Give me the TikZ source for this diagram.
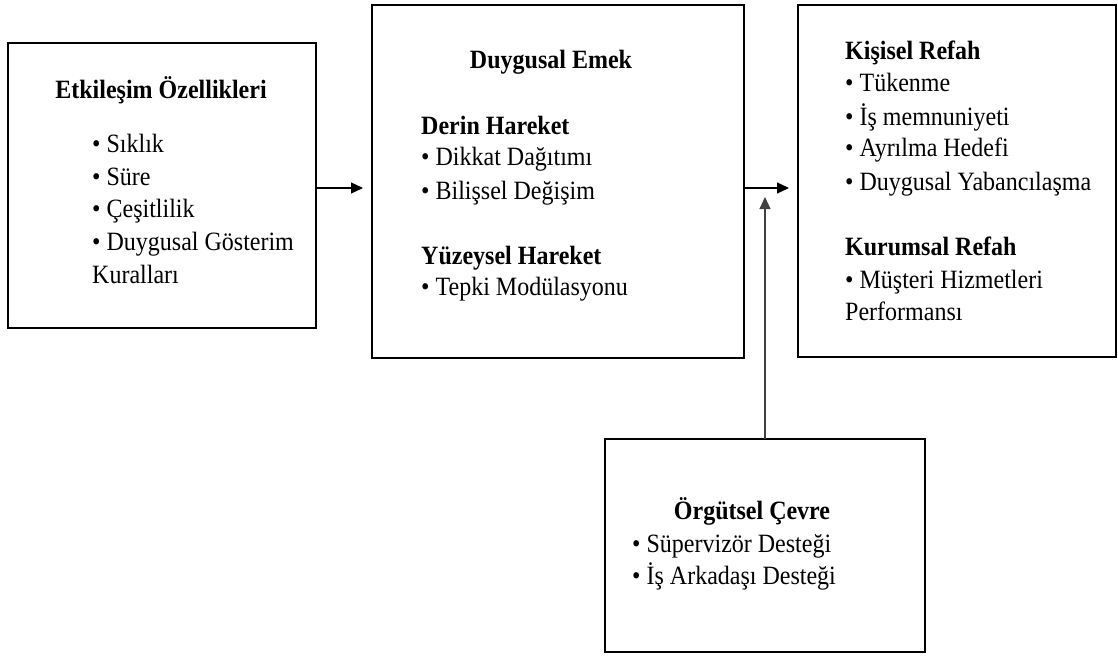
\documentclass[tikz,border=0pt]{standalone}
\usepackage{fontspec}
\setmainfont{Liberation Serif}
\usetikzlibrary{arrows.meta}

% text is set slightly taller than its natural proportions
\newcommand\stretchtxt[1]{\scalebox{1}[1.1]{#1}}

\tikzset{
  panel/.style={draw=black, line width=2.4pt, fill=none, inner sep=0pt, outer sep=0pt},
  flow/.style={line width=1.3pt, -{Triangle[length=12pt,width=11pt]}},
  txt/.style={anchor=base west, inner sep=0pt, font=\fontsize{24}{33}\selectfont},
  head/.style={anchor=base, inner sep=0pt, font=\fontsize{24}{33}\selectfont\bfseries},
  lhead/.style={anchor=base west, inner sep=0pt, font=\fontsize{24}{33}\selectfont\bfseries}
}

\begin{document}
\begin{tikzpicture}[x=1pt, y=-1pt]
  \useasboundingbox (0,0) rectangle (1118,658);

  % frames
  \node[panel, minimum width=308pt, minimum height=285pt] (b1) at (162,185.5) {};
  \node[panel, minimum width=372pt, minimum height=353pt] (b2) at (558,181.5) {};
  \node[panel, minimum width=318pt, minimum height=352pt] (b3) at (957,181) {};
  \node[panel, minimum width=320pt, minimum height=213pt] (b4) at (765,545.5) {};

  % Etkileşim Özellikleri
  \node[head] (t1) at (161,99) {\stretchtxt{Etkileşim Özellikleri}};
  \node[txt] (t1a) at (92,152) {\stretchtxt{• Sıklık}};
  \node[txt] (t1b) at (92,185) {\stretchtxt{• Süre}};
  \node[txt] (t1c) at (92,217) {\stretchtxt{• Çeşitlilik}};
  \node[txt] (t1d) at (92,250) {\stretchtxt{• Duygusal Gösterim}};
  \node[txt] (t1e) at (92,283) {\stretchtxt{Kuralları}};

  % Duygusal Emek
  \node[head] (t2) at (551,69) {\stretchtxt{Duygusal Emek}};
  \node[lhead] (t2a) at (421,134) {\stretchtxt{Derin Hareket}};
  \node[txt] (t2b) at (421,165) {\stretchtxt{• Dikkat Dağıtımı}};
  \node[txt] (t2c) at (421,199) {\stretchtxt{• Bilişsel Değişim}};
  \node[lhead] (t2d) at (421,264) {\stretchtxt{Yüzeysel Hareket}};
  \node[txt] (t2e) at (421,295) {\stretchtxt{• Tepki Modülasyonu}};

  % Refah
  \node[lhead] (t3a) at (845,60) {\stretchtxt{Kişisel Refah}};
  \node[txt] (t3b) at (845,92) {\stretchtxt{• Tükenme}};
  \node[txt] (t3c) at (845,125) {\stretchtxt{• İş memnuniyeti}};
  \node[txt] (t3d) at (845,157) {\stretchtxt{• Ayrılma Hedefi}};
  \node[txt] (t3e) at (845,190) {\stretchtxt{• Duygusal Yabancılaşma}};
  \node[lhead] (t3f) at (845,255) {\stretchtxt{Kurumsal Refah}};
  \node[txt] (t3g) at (845,288) {\stretchtxt{• Müşteri Hizmetleri}};
  \node[txt] (t3h) at (845,320) {\stretchtxt{Performansı}};

  % Örgütsel Çevre
  \node[head] (t4) at (752,519) {\stretchtxt{Örgütsel Çevre}};
  \node[txt] (t4a) at (632,552) {\stretchtxt{• Süpervizör Desteği}};
  \node[txt] (t4b) at (632,584) {\stretchtxt{• İş Arkadaşı Desteği}};

  % connectors
  \coordinate (in2) at (b2.west |- 0,188);
  \coordinate (out1) at (b1.east |- 0,188);
  \coordinate (out2) at (b2.east |- 0,188);
  \coordinate (in3) at (b3.west |- 0,188);
  \coordinate (mod) at (765,197);
  \draw[flow, shorten >=9pt] (out1) -- (in2);
  \draw[flow, shorten >=9pt] (out2) -- (in3);
  \draw[flow, line width=1.1pt, draw=black!75] (b4.north) -- (mod);
\end{tikzpicture}
\end{document}
